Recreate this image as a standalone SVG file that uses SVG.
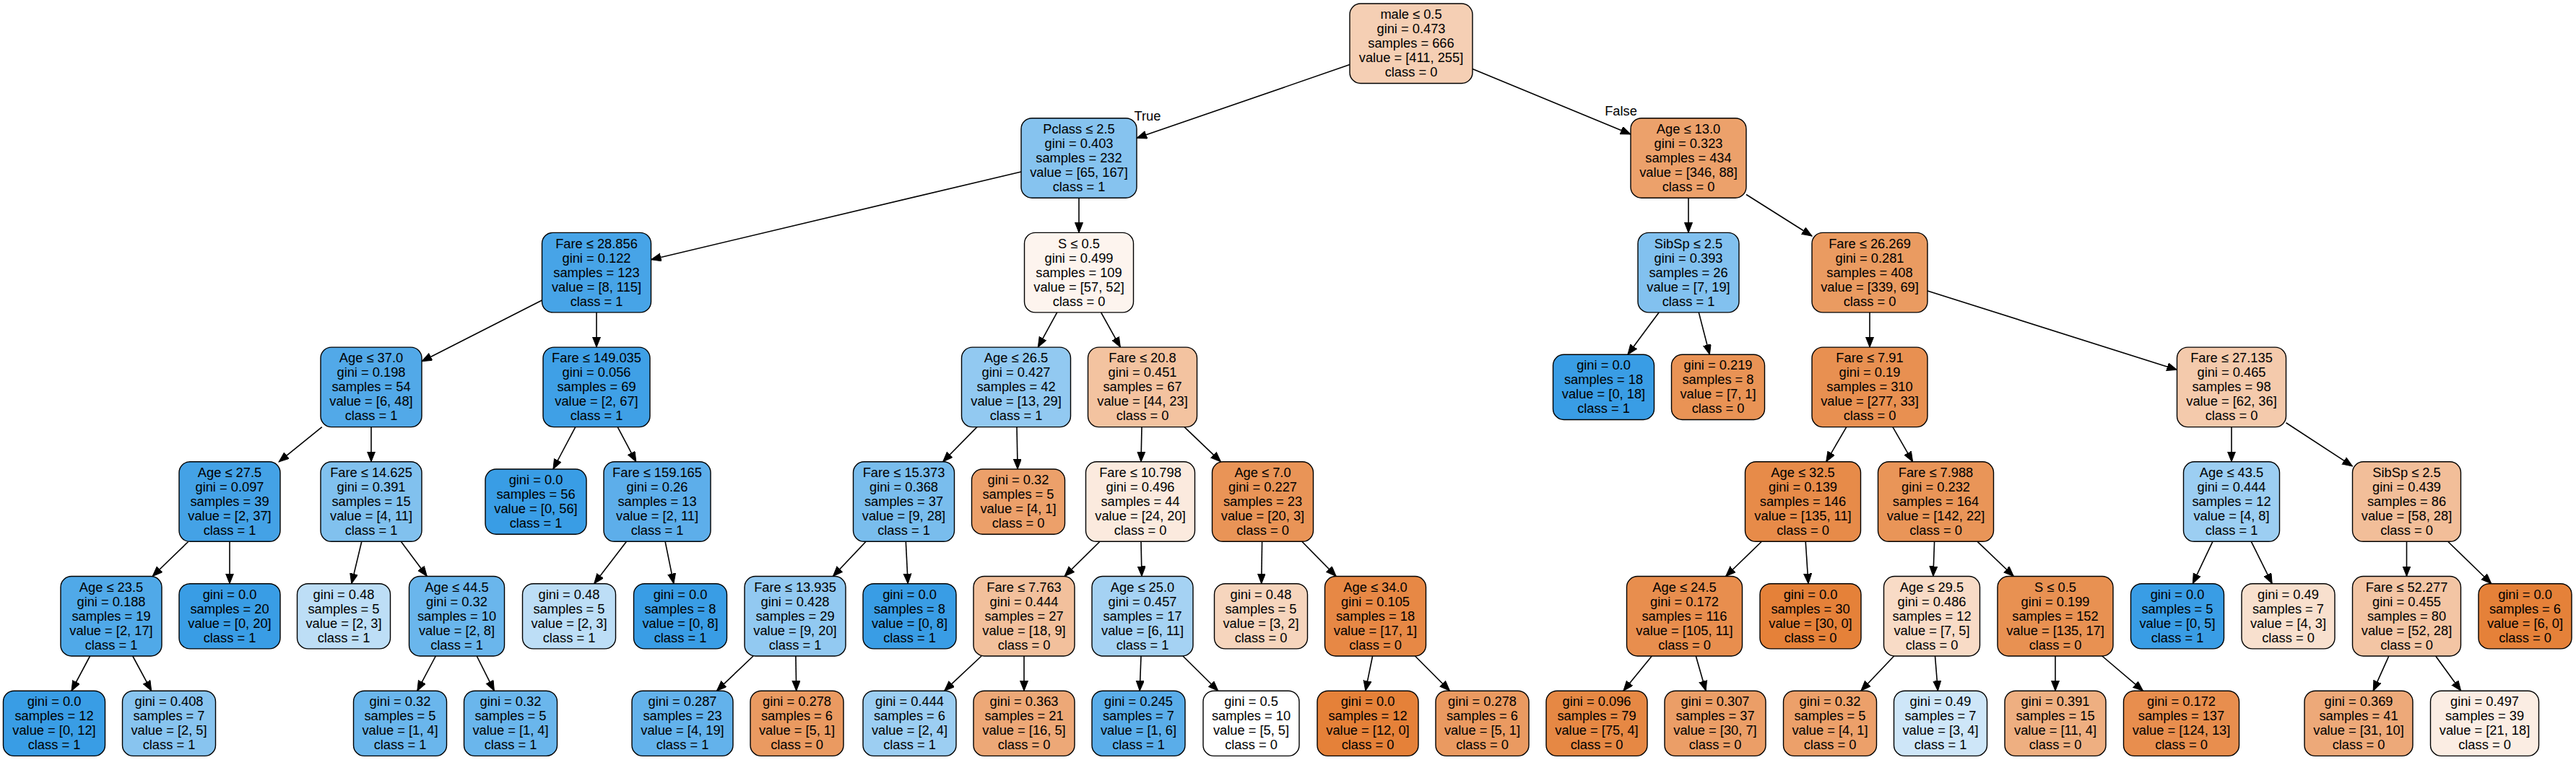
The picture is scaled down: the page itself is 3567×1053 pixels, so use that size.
<svg xmlns="http://www.w3.org/2000/svg" width="3567" height="1053" viewBox="0 0 3567 1053">
<style>
.node rect{stroke:#000;stroke-width:1.4}
text{font-family:"Liberation Sans",Arial,Helvetica,sans-serif;font-size:18.3px;text-anchor:middle;fill:#000}
.edges line{stroke:#000;stroke-width:1.6}
</style>
<defs>
<marker id="arr" markerUnits="userSpaceOnUse" markerWidth="15" markerHeight="12" refX="14" refY="5.5" orient="auto"><path d="M0,0 L14,5.5 L0,11 Z" fill="#000" stroke="#000" stroke-width="1"/></marker>
</defs>
<rect width="3567" height="1053" fill="#fff"/>
<g class="edges">
<line x1="1869" y1="89.6" x2="1574" y2="191.35" marker-end="url(#arr)"/>
<line x1="2039" y1="95.4" x2="2258" y2="185.9" marker-end="url(#arr)"/>
<line x1="1414" y1="237.96" x2="901.5" y2="359.7" marker-end="url(#arr)"/>
<line x1="1494" y1="274.2" x2="1494" y2="322.4" marker-end="url(#arr)"/>
<line x1="750.5" y1="416.05" x2="584" y2="500.7" marker-end="url(#arr)"/>
<line x1="826" y1="432.9" x2="826" y2="481.1" marker-end="url(#arr)"/>
<line x1="445.8" y1="591.6" x2="386.2" y2="639.8" marker-end="url(#arr)"/>
<line x1="514" y1="591.6" x2="514" y2="639.8" marker-end="url(#arr)"/>
<line x1="260.9" y1="750.3" x2="211.1" y2="798.5" marker-end="url(#arr)"/>
<line x1="318" y1="750.3" x2="318" y2="808.7" marker-end="url(#arr)"/>
<line x1="124.6" y1="909" x2="99" y2="957.2" marker-end="url(#arr)"/>
<line x1="183.75" y1="909" x2="209.7" y2="957.2" marker-end="url(#arr)"/>
<line x1="500.8" y1="750.3" x2="486.8" y2="808.7" marker-end="url(#arr)"/>
<line x1="555.25" y1="750.3" x2="591.25" y2="798.5" marker-end="url(#arr)"/>
<line x1="603.3" y1="909" x2="577.8" y2="957.2" marker-end="url(#arr)"/>
<line x1="660.2" y1="909" x2="684.4" y2="957.2" marker-end="url(#arr)"/>
<line x1="796.8" y1="591.6" x2="765.9" y2="650" marker-end="url(#arr)"/>
<line x1="855.2" y1="591.6" x2="880.8" y2="639.8" marker-end="url(#arr)"/>
<line x1="867.5" y1="750.3" x2="822.7" y2="808.7" marker-end="url(#arr)"/>
<line x1="921.1" y1="750.3" x2="932.9" y2="808.7" marker-end="url(#arr)"/>
<line x1="1463.7" y1="432.9" x2="1437.3" y2="481.1" marker-end="url(#arr)"/>
<line x1="1524.6" y1="432.9" x2="1551.4" y2="481.1" marker-end="url(#arr)"/>
<line x1="1352.9" y1="591.6" x2="1305.6" y2="639.8" marker-end="url(#arr)"/>
<line x1="1408" y1="591.6" x2="1409.1" y2="650" marker-end="url(#arr)"/>
<line x1="1199.1" y1="750.3" x2="1153.4" y2="798.5" marker-end="url(#arr)"/>
<line x1="1254.3" y1="750.3" x2="1257.2" y2="808.7" marker-end="url(#arr)"/>
<line x1="1043" y1="909" x2="992.4" y2="957.2" marker-end="url(#arr)"/>
<line x1="1101.9" y1="909" x2="1102.7" y2="957.2" marker-end="url(#arr)"/>
<line x1="1581" y1="591.6" x2="1580" y2="639.8" marker-end="url(#arr)"/>
<line x1="1640" y1="591.6" x2="1690.5" y2="639.8" marker-end="url(#arr)"/>
<line x1="1523" y1="750.3" x2="1474" y2="798.5" marker-end="url(#arr)"/>
<line x1="1580" y1="750.3" x2="1581" y2="798.5" marker-end="url(#arr)"/>
<line x1="1359" y1="909" x2="1307.6" y2="957.2" marker-end="url(#arr)"/>
<line x1="1418" y1="909" x2="1418" y2="957.2" marker-end="url(#arr)"/>
<line x1="1580" y1="909" x2="1578.2" y2="957.2" marker-end="url(#arr)"/>
<line x1="1638" y1="909" x2="1686.8" y2="957.2" marker-end="url(#arr)"/>
<line x1="1747.6" y1="750.3" x2="1746.7" y2="808.7" marker-end="url(#arr)"/>
<line x1="1802.8" y1="750.3" x2="1850.2" y2="798.5" marker-end="url(#arr)"/>
<line x1="1900.6" y1="909" x2="1890.8" y2="957.2" marker-end="url(#arr)"/>
<line x1="1959.5" y1="909" x2="2007.6" y2="957.2" marker-end="url(#arr)"/>
<line x1="2338" y1="274.2" x2="2338" y2="322.4" marker-end="url(#arr)"/>
<line x1="2418" y1="269.5" x2="2509" y2="327.05" marker-end="url(#arr)"/>
<line x1="2297.1" y1="432.9" x2="2253.9" y2="491.3" marker-end="url(#arr)"/>
<line x1="2352.3" y1="432.9" x2="2367.35" y2="491.3" marker-end="url(#arr)"/>
<line x1="2589" y1="432.9" x2="2589" y2="481.1" marker-end="url(#arr)"/>
<line x1="2669" y1="403" x2="3014.5" y2="512.4" marker-end="url(#arr)"/>
<line x1="2556.8" y1="591.6" x2="2528.7" y2="639.8" marker-end="url(#arr)"/>
<line x1="2620.9" y1="591.6" x2="2648.6" y2="639.8" marker-end="url(#arr)"/>
<line x1="2439.4" y1="750.3" x2="2389.6" y2="798.5" marker-end="url(#arr)"/>
<line x1="2500.2" y1="750.3" x2="2504" y2="808.7" marker-end="url(#arr)"/>
<line x1="2287.3" y1="909" x2="2247.9" y2="957.2" marker-end="url(#arr)"/>
<line x1="2348.3" y1="909" x2="2362.1" y2="957.2" marker-end="url(#arr)"/>
<line x1="2678.6" y1="750.3" x2="2676.9" y2="798.5" marker-end="url(#arr)"/>
<line x1="2738.1" y1="750.3" x2="2788.4" y2="798.5" marker-end="url(#arr)"/>
<line x1="2622.6" y1="909" x2="2576.8" y2="957.2" marker-end="url(#arr)"/>
<line x1="2679.5" y1="909" x2="2683.4" y2="957.2" marker-end="url(#arr)"/>
<line x1="2846" y1="909" x2="2846" y2="957.2" marker-end="url(#arr)"/>
<line x1="2910.9" y1="909" x2="2967.5" y2="957.2" marker-end="url(#arr)"/>
<line x1="3090" y1="591.6" x2="3090" y2="639.8" marker-end="url(#arr)"/>
<line x1="3165.5" y1="585.75" x2="3257.5" y2="645.95" marker-end="url(#arr)"/>
<line x1="3063.9" y1="750.3" x2="3036.3" y2="808.7" marker-end="url(#arr)"/>
<line x1="3117.3" y1="750.3" x2="3146.2" y2="808.7" marker-end="url(#arr)"/>
<line x1="3332.5" y1="750.3" x2="3332.5" y2="798.5" marker-end="url(#arr)"/>
<line x1="3389.6" y1="750.3" x2="3449.9" y2="808.7" marker-end="url(#arr)"/>
<line x1="3307.8" y1="909" x2="3286.2" y2="957.2" marker-end="url(#arr)"/>
<line x1="3372.7" y1="909" x2="3407.7" y2="957.2" marker-end="url(#arr)"/>
<text x="1589" y="167">True</text>
<text x="2244.5" y="160">False</text>
</g>
<g id="n0" class="node"><rect x="1869" y="5" width="170" height="110.5" rx="15" fill="#f5cfb4"/><text y="26.25"><tspan x="1954">male ≤ 0.5</tspan><tspan x="1954" dy="20">gini = 0.473</tspan><tspan x="1954" dy="20">samples = 666</tspan><tspan x="1954" dy="20">value = [411, 255]</tspan><tspan x="1954" dy="20">class = 0</tspan></text></g>
<g id="n1" class="node"><rect x="1414" y="163.7" width="160" height="110.5" rx="15" fill="#86c3ef"/><text y="184.95"><tspan x="1494">Pclass ≤ 2.5</tspan><tspan x="1494" dy="20">gini = 0.403</tspan><tspan x="1494" dy="20">samples = 232</tspan><tspan x="1494" dy="20">value = [65, 167]</tspan><tspan x="1494" dy="20">class = 1</tspan></text></g>
<g id="n2" class="node"><rect x="750.5" y="322.4" width="151" height="110.5" rx="15" fill="#47a4e7"/><text y="343.65"><tspan x="826">Fare ≤ 28.856</tspan><tspan x="826" dy="20">gini = 0.122</tspan><tspan x="826" dy="20">samples = 123</tspan><tspan x="826" dy="20">value = [8, 115]</tspan><tspan x="826" dy="20">class = 1</tspan></text></g>
<g id="n3" class="node"><rect x="444" y="481.1" width="140" height="110.5" rx="15" fill="#52a9e8"/><text y="502.35"><tspan x="514">Age ≤ 37.0</tspan><tspan x="514" dy="20">gini = 0.198</tspan><tspan x="514" dy="20">samples = 54</tspan><tspan x="514" dy="20">value = [6, 48]</tspan><tspan x="514" dy="20">class = 1</tspan></text></g>
<g id="n4" class="node"><rect x="248" y="639.8" width="140" height="110.5" rx="15" fill="#44a2e6"/><text y="661.05"><tspan x="318">Age ≤ 27.5</tspan><tspan x="318" dy="20">gini = 0.097</tspan><tspan x="318" dy="20">samples = 39</tspan><tspan x="318" dy="20">value = [2, 37]</tspan><tspan x="318" dy="20">class = 1</tspan></text></g>
<g id="n5" class="node"><rect x="84" y="798.5" width="140" height="110.5" rx="15" fill="#50a9e8"/><text y="819.75"><tspan x="154">Age ≤ 23.5</tspan><tspan x="154" dy="20">gini = 0.188</tspan><tspan x="154" dy="20">samples = 19</tspan><tspan x="154" dy="20">value = [2, 17]</tspan><tspan x="154" dy="20">class = 1</tspan></text></g>
<g id="n6" class="node"><rect x="4.5" y="957.2" width="141" height="90.2" rx="15" fill="#399de5"/><text y="978.3"><tspan x="75">gini = 0.0</tspan><tspan x="75" dy="20">samples = 12</tspan><tspan x="75" dy="20">value = [0, 12]</tspan><tspan x="75" dy="20">class = 1</tspan></text></g>
<g id="n7" class="node"><rect x="169.5" y="957.2" width="129" height="90.2" rx="15" fill="#88c4ef"/><text y="978.3"><tspan x="234">gini = 0.408</tspan><tspan x="234" dy="20">samples = 7</tspan><tspan x="234" dy="20">value = [2, 5]</tspan><tspan x="234" dy="20">class = 1</tspan></text></g>
<g id="n8" class="node"><rect x="248" y="808.7" width="140" height="90.2" rx="15" fill="#399de5"/><text y="829.8"><tspan x="318">gini = 0.0</tspan><tspan x="318" dy="20">samples = 20</tspan><tspan x="318" dy="20">value = [0, 20]</tspan><tspan x="318" dy="20">class = 1</tspan></text></g>
<g id="n9" class="node"><rect x="444" y="639.8" width="140" height="110.5" rx="15" fill="#81c1ee"/><text y="661.05"><tspan x="514">Fare ≤ 14.625</tspan><tspan x="514" dy="20">gini = 0.391</tspan><tspan x="514" dy="20">samples = 15</tspan><tspan x="514" dy="20">value = [4, 11]</tspan><tspan x="514" dy="20">class = 1</tspan></text></g>
<g id="n10" class="node"><rect x="411.5" y="808.7" width="129" height="90.2" rx="15" fill="#bddef6"/><text y="829.8"><tspan x="476">gini = 0.48</tspan><tspan x="476" dy="20">samples = 5</tspan><tspan x="476" dy="20">value = [2, 3]</tspan><tspan x="476" dy="20">class = 1</tspan></text></g>
<g id="n11" class="node"><rect x="566.5" y="798.5" width="132" height="110.5" rx="15" fill="#6ab6ec"/><text y="819.75"><tspan x="632.5">Age ≤ 44.5</tspan><tspan x="632.5" dy="20">gini = 0.32</tspan><tspan x="632.5" dy="20">samples = 10</tspan><tspan x="632.5" dy="20">value = [2, 8]</tspan><tspan x="632.5" dy="20">class = 1</tspan></text></g>
<g id="n12" class="node"><rect x="489.5" y="957.2" width="129" height="90.2" rx="15" fill="#6ab6ec"/><text y="978.3"><tspan x="554">gini = 0.32</tspan><tspan x="554" dy="20">samples = 5</tspan><tspan x="554" dy="20">value = [1, 4]</tspan><tspan x="554" dy="20">class = 1</tspan></text></g>
<g id="n13" class="node"><rect x="642.5" y="957.2" width="129" height="90.2" rx="15" fill="#6ab6ec"/><text y="978.3"><tspan x="707">gini = 0.32</tspan><tspan x="707" dy="20">samples = 5</tspan><tspan x="707" dy="20">value = [1, 4]</tspan><tspan x="707" dy="20">class = 1</tspan></text></g>
<g id="n14" class="node"><rect x="752" y="481.1" width="148" height="110.5" rx="15" fill="#3fa0e6"/><text y="502.35"><tspan x="826">Fare ≤ 149.035</tspan><tspan x="826" dy="20">gini = 0.056</tspan><tspan x="826" dy="20">samples = 69</tspan><tspan x="826" dy="20">value = [2, 67]</tspan><tspan x="826" dy="20">class = 1</tspan></text></g>
<g id="n15" class="node"><rect x="672" y="650" width="140" height="90.2" rx="15" fill="#399de5"/><text y="671.1"><tspan x="742">gini = 0.0</tspan><tspan x="742" dy="20">samples = 56</tspan><tspan x="742" dy="20">value = [0, 56]</tspan><tspan x="742" dy="20">class = 1</tspan></text></g>
<g id="n16" class="node"><rect x="836" y="639.8" width="148" height="110.5" rx="15" fill="#5daeea"/><text y="661.05"><tspan x="910">Fare ≤ 159.165</tspan><tspan x="910" dy="20">gini = 0.26</tspan><tspan x="910" dy="20">samples = 13</tspan><tspan x="910" dy="20">value = [2, 11]</tspan><tspan x="910" dy="20">class = 1</tspan></text></g>
<g id="n17" class="node"><rect x="723.5" y="808.7" width="129" height="90.2" rx="15" fill="#bddef6"/><text y="829.8"><tspan x="788">gini = 0.48</tspan><tspan x="788" dy="20">samples = 5</tspan><tspan x="788" dy="20">value = [2, 3]</tspan><tspan x="788" dy="20">class = 1</tspan></text></g>
<g id="n18" class="node"><rect x="877.5" y="808.7" width="129" height="90.2" rx="15" fill="#399de5"/><text y="829.8"><tspan x="942">gini = 0.0</tspan><tspan x="942" dy="20">samples = 8</tspan><tspan x="942" dy="20">value = [0, 8]</tspan><tspan x="942" dy="20">class = 1</tspan></text></g>
<g id="n19" class="node"><rect x="1418.5" y="322.4" width="151" height="110.5" rx="15" fill="#fdf4ee"/><text y="343.65"><tspan x="1494">S ≤ 0.5</tspan><tspan x="1494" dy="20">gini = 0.499</tspan><tspan x="1494" dy="20">samples = 109</tspan><tspan x="1494" dy="20">value = [57, 52]</tspan><tspan x="1494" dy="20">class = 0</tspan></text></g>
<g id="n20" class="node"><rect x="1331.5" y="481.1" width="151" height="110.5" rx="15" fill="#92c9f1"/><text y="502.35"><tspan x="1407">Age ≤ 26.5</tspan><tspan x="1407" dy="20">gini = 0.427</tspan><tspan x="1407" dy="20">samples = 42</tspan><tspan x="1407" dy="20">value = [13, 29]</tspan><tspan x="1407" dy="20">class = 1</tspan></text></g>
<g id="n21" class="node"><rect x="1181.5" y="639.8" width="140" height="110.5" rx="15" fill="#79bded"/><text y="661.05"><tspan x="1251.5">Fare ≤ 15.373</tspan><tspan x="1251.5" dy="20">gini = 0.368</tspan><tspan x="1251.5" dy="20">samples = 37</tspan><tspan x="1251.5" dy="20">value = [9, 28]</tspan><tspan x="1251.5" dy="20">class = 1</tspan></text></g>
<g id="n22" class="node"><rect x="1031" y="798.5" width="140" height="110.5" rx="15" fill="#92c9f1"/><text y="819.75"><tspan x="1101">Fare ≤ 13.935</tspan><tspan x="1101" dy="20">gini = 0.428</tspan><tspan x="1101" dy="20">samples = 29</tspan><tspan x="1101" dy="20">value = [9, 20]</tspan><tspan x="1101" dy="20">class = 1</tspan></text></g>
<g id="n23" class="node"><rect x="875" y="957.2" width="140" height="90.2" rx="15" fill="#63b2eb"/><text y="978.3"><tspan x="945">gini = 0.287</tspan><tspan x="945" dy="20">samples = 23</tspan><tspan x="945" dy="20">value = [4, 19]</tspan><tspan x="945" dy="20">class = 1</tspan></text></g>
<g id="n24" class="node"><rect x="1039" y="957.2" width="129" height="90.2" rx="15" fill="#ea9a61"/><text y="978.3"><tspan x="1103.5">gini = 0.278</tspan><tspan x="1103.5" dy="20">samples = 6</tspan><tspan x="1103.5" dy="20">value = [5, 1]</tspan><tspan x="1103.5" dy="20">class = 0</tspan></text></g>
<g id="n25" class="node"><rect x="1195" y="808.7" width="129" height="90.2" rx="15" fill="#399de5"/><text y="829.8"><tspan x="1259.5">gini = 0.0</tspan><tspan x="1259.5" dy="20">samples = 8</tspan><tspan x="1259.5" dy="20">value = [0, 8]</tspan><tspan x="1259.5" dy="20">class = 1</tspan></text></g>
<g id="n26" class="node"><rect x="1345.5" y="650" width="129" height="90.2" rx="15" fill="#eca06a"/><text y="671.1"><tspan x="1410">gini = 0.32</tspan><tspan x="1410" dy="20">samples = 5</tspan><tspan x="1410" dy="20">value = [4, 1]</tspan><tspan x="1410" dy="20">class = 0</tspan></text></g>
<g id="n27" class="node"><rect x="1506.5" y="481.1" width="151" height="110.5" rx="15" fill="#f3c3a0"/><text y="502.35"><tspan x="1582">Fare ≤ 20.8</tspan><tspan x="1582" dy="20">gini = 0.451</tspan><tspan x="1582" dy="20">samples = 67</tspan><tspan x="1582" dy="20">value = [44, 23]</tspan><tspan x="1582" dy="20">class = 0</tspan></text></g>
<g id="n28" class="node"><rect x="1503.5" y="639.8" width="151" height="110.5" rx="15" fill="#fbeade"/><text y="661.05"><tspan x="1579">Fare ≤ 10.798</tspan><tspan x="1579" dy="20">gini = 0.496</tspan><tspan x="1579" dy="20">samples = 44</tspan><tspan x="1579" dy="20">value = [24, 20]</tspan><tspan x="1579" dy="20">class = 0</tspan></text></g>
<g id="n29" class="node"><rect x="1348" y="798.5" width="140" height="110.5" rx="15" fill="#f2c09c"/><text y="819.75"><tspan x="1418">Fare ≤ 7.763</tspan><tspan x="1418" dy="20">gini = 0.444</tspan><tspan x="1418" dy="20">samples = 27</tspan><tspan x="1418" dy="20">value = [18, 9]</tspan><tspan x="1418" dy="20">class = 0</tspan></text></g>
<g id="n30" class="node"><rect x="1195" y="957.2" width="129" height="90.2" rx="15" fill="#9ccef2"/><text y="978.3"><tspan x="1259.5">gini = 0.444</tspan><tspan x="1259.5" dy="20">samples = 6</tspan><tspan x="1259.5" dy="20">value = [2, 4]</tspan><tspan x="1259.5" dy="20">class = 1</tspan></text></g>
<g id="n31" class="node"><rect x="1348" y="957.2" width="140" height="90.2" rx="15" fill="#eda877"/><text y="978.3"><tspan x="1418">gini = 0.363</tspan><tspan x="1418" dy="20">samples = 21</tspan><tspan x="1418" dy="20">value = [16, 5]</tspan><tspan x="1418" dy="20">class = 0</tspan></text></g>
<g id="n32" class="node"><rect x="1512" y="798.5" width="140" height="110.5" rx="15" fill="#a5d2f3"/><text y="819.75"><tspan x="1582">Age ≤ 25.0</tspan><tspan x="1582" dy="20">gini = 0.457</tspan><tspan x="1582" dy="20">samples = 17</tspan><tspan x="1582" dy="20">value = [6, 11]</tspan><tspan x="1582" dy="20">class = 1</tspan></text></g>
<g id="n33" class="node"><rect x="1512" y="957.2" width="129" height="90.2" rx="15" fill="#5aade9"/><text y="978.3"><tspan x="1576.5">gini = 0.245</tspan><tspan x="1576.5" dy="20">samples = 7</tspan><tspan x="1576.5" dy="20">value = [1, 6]</tspan><tspan x="1576.5" dy="20">class = 1</tspan></text></g>
<g id="n34" class="node"><rect x="1666" y="957.2" width="133" height="90.2" rx="15" fill="#ffffff"/><text y="978.3"><tspan x="1732.5">gini = 0.5</tspan><tspan x="1732.5" dy="20">samples = 10</tspan><tspan x="1732.5" dy="20">value = [5, 5]</tspan><tspan x="1732.5" dy="20">class = 0</tspan></text></g>
<g id="n35" class="node"><rect x="1678.5" y="639.8" width="140" height="110.5" rx="15" fill="#e99457"/><text y="661.05"><tspan x="1748.5">Age ≤ 7.0</tspan><tspan x="1748.5" dy="20">gini = 0.227</tspan><tspan x="1748.5" dy="20">samples = 23</tspan><tspan x="1748.5" dy="20">value = [20, 3]</tspan><tspan x="1748.5" dy="20">class = 0</tspan></text></g>
<g id="n36" class="node"><rect x="1681.5" y="808.7" width="129" height="90.2" rx="15" fill="#f6d5bd"/><text y="829.8"><tspan x="1746">gini = 0.48</tspan><tspan x="1746" dy="20">samples = 5</tspan><tspan x="1746" dy="20">value = [3, 2]</tspan><tspan x="1746" dy="20">class = 0</tspan></text></g>
<g id="n37" class="node"><rect x="1834.5" y="798.5" width="140" height="110.5" rx="15" fill="#e78845"/><text y="819.75"><tspan x="1904.5">Age ≤ 34.0</tspan><tspan x="1904.5" dy="20">gini = 0.105</tspan><tspan x="1904.5" dy="20">samples = 18</tspan><tspan x="1904.5" dy="20">value = [17, 1]</tspan><tspan x="1904.5" dy="20">class = 0</tspan></text></g>
<g id="n38" class="node"><rect x="1824" y="957.2" width="140" height="90.2" rx="15" fill="#e58139"/><text y="978.3"><tspan x="1894">gini = 0.0</tspan><tspan x="1894" dy="20">samples = 12</tspan><tspan x="1894" dy="20">value = [12, 0]</tspan><tspan x="1894" dy="20">class = 0</tspan></text></g>
<g id="n39" class="node"><rect x="1988" y="957.2" width="129" height="90.2" rx="15" fill="#ea9a61"/><text y="978.3"><tspan x="2052.5">gini = 0.278</tspan><tspan x="2052.5" dy="20">samples = 6</tspan><tspan x="2052.5" dy="20">value = [5, 1]</tspan><tspan x="2052.5" dy="20">class = 0</tspan></text></g>
<g id="n40" class="node"><rect x="2258" y="163.7" width="160" height="110.5" rx="15" fill="#eca16b"/><text y="184.95"><tspan x="2338">Age ≤ 13.0</tspan><tspan x="2338" dy="20">gini = 0.323</tspan><tspan x="2338" dy="20">samples = 434</tspan><tspan x="2338" dy="20">value = [346, 88]</tspan><tspan x="2338" dy="20">class = 0</tspan></text></g>
<g id="n41" class="node"><rect x="2268" y="322.4" width="140" height="110.5" rx="15" fill="#82c1ef"/><text y="343.65"><tspan x="2338">SibSp ≤ 2.5</tspan><tspan x="2338" dy="20">gini = 0.393</tspan><tspan x="2338" dy="20">samples = 26</tspan><tspan x="2338" dy="20">value = [7, 19]</tspan><tspan x="2338" dy="20">class = 1</tspan></text></g>
<g id="n42" class="node"><rect x="2150.5" y="491.3" width="140" height="90.2" rx="15" fill="#399de5"/><text y="512.4"><tspan x="2220.5">gini = 0.0</tspan><tspan x="2220.5" dy="20">samples = 18</tspan><tspan x="2220.5" dy="20">value = [0, 18]</tspan><tspan x="2220.5" dy="20">class = 1</tspan></text></g>
<g id="n43" class="node"><rect x="2314.5" y="491.3" width="129" height="90.2" rx="15" fill="#e99355"/><text y="512.4"><tspan x="2379">gini = 0.219</tspan><tspan x="2379" dy="20">samples = 8</tspan><tspan x="2379" dy="20">value = [7, 1]</tspan><tspan x="2379" dy="20">class = 0</tspan></text></g>
<g id="n44" class="node"><rect x="2509" y="322.4" width="160" height="110.5" rx="15" fill="#ea9b61"/><text y="343.65"><tspan x="2589">Fare ≤ 26.269</tspan><tspan x="2589" dy="20">gini = 0.281</tspan><tspan x="2589" dy="20">samples = 408</tspan><tspan x="2589" dy="20">value = [339, 69]</tspan><tspan x="2589" dy="20">class = 0</tspan></text></g>
<g id="n45" class="node"><rect x="2509" y="481.1" width="160" height="110.5" rx="15" fill="#e89051"/><text y="502.35"><tspan x="2589">Fare ≤ 7.91</tspan><tspan x="2589" dy="20">gini = 0.19</tspan><tspan x="2589" dy="20">samples = 310</tspan><tspan x="2589" dy="20">value = [277, 33]</tspan><tspan x="2589" dy="20">class = 0</tspan></text></g>
<g id="n46" class="node"><rect x="2416.5" y="639.8" width="160" height="110.5" rx="15" fill="#e78b49"/><text y="661.05"><tspan x="2496.5">Age ≤ 32.5</tspan><tspan x="2496.5" dy="20">gini = 0.139</tspan><tspan x="2496.5" dy="20">samples = 146</tspan><tspan x="2496.5" dy="20">value = [135, 11]</tspan><tspan x="2496.5" dy="20">class = 0</tspan></text></g>
<g id="n47" class="node"><rect x="2252.5" y="798.5" width="160" height="110.5" rx="15" fill="#e88e4e"/><text y="819.75"><tspan x="2332.5">Age ≤ 24.5</tspan><tspan x="2332.5" dy="20">gini = 0.172</tspan><tspan x="2332.5" dy="20">samples = 116</tspan><tspan x="2332.5" dy="20">value = [105, 11]</tspan><tspan x="2332.5" dy="20">class = 0</tspan></text></g>
<g id="n48" class="node"><rect x="2141" y="957.2" width="140" height="90.2" rx="15" fill="#e68844"/><text y="978.3"><tspan x="2211">gini = 0.096</tspan><tspan x="2211" dy="20">samples = 79</tspan><tspan x="2211" dy="20">value = [75, 4]</tspan><tspan x="2211" dy="20">class = 0</tspan></text></g>
<g id="n49" class="node"><rect x="2305" y="957.2" width="140" height="90.2" rx="15" fill="#eb9e67"/><text y="978.3"><tspan x="2375">gini = 0.307</tspan><tspan x="2375" dy="20">samples = 37</tspan><tspan x="2375" dy="20">value = [30, 7]</tspan><tspan x="2375" dy="20">class = 0</tspan></text></g>
<g id="n50" class="node"><rect x="2437" y="808.7" width="140" height="90.2" rx="15" fill="#e58139"/><text y="829.8"><tspan x="2507">gini = 0.0</tspan><tspan x="2507" dy="20">samples = 30</tspan><tspan x="2507" dy="20">value = [30, 0]</tspan><tspan x="2507" dy="20">class = 0</tspan></text></g>
<g id="n51" class="node"><rect x="2600.5" y="639.8" width="160" height="110.5" rx="15" fill="#e99558"/><text y="661.05"><tspan x="2680.5">Fare ≤ 7.988</tspan><tspan x="2680.5" dy="20">gini = 0.232</tspan><tspan x="2680.5" dy="20">samples = 164</tspan><tspan x="2680.5" dy="20">value = [142, 22]</tspan><tspan x="2680.5" dy="20">class = 0</tspan></text></g>
<g id="n52" class="node"><rect x="2608.5" y="798.5" width="133" height="110.5" rx="15" fill="#f8dbc6"/><text y="819.75"><tspan x="2675">Age ≤ 29.5</tspan><tspan x="2675" dy="20">gini = 0.486</tspan><tspan x="2675" dy="20">samples = 12</tspan><tspan x="2675" dy="20">value = [7, 5]</tspan><tspan x="2675" dy="20">class = 0</tspan></text></g>
<g id="n53" class="node"><rect x="2469.5" y="957.2" width="129" height="90.2" rx="15" fill="#eca06a"/><text y="978.3"><tspan x="2534">gini = 0.32</tspan><tspan x="2534" dy="20">samples = 5</tspan><tspan x="2534" dy="20">value = [4, 1]</tspan><tspan x="2534" dy="20">class = 0</tspan></text></g>
<g id="n54" class="node"><rect x="2622.5" y="957.2" width="129" height="90.2" rx="15" fill="#cee6f8"/><text y="978.3"><tspan x="2687">gini = 0.49</tspan><tspan x="2687" dy="20">samples = 7</tspan><tspan x="2687" dy="20">value = [3, 4]</tspan><tspan x="2687" dy="20">class = 1</tspan></text></g>
<g id="n55" class="node"><rect x="2766" y="798.5" width="160" height="110.5" rx="15" fill="#e89152"/><text y="819.75"><tspan x="2846">S ≤ 0.5</tspan><tspan x="2846" dy="20">gini = 0.199</tspan><tspan x="2846" dy="20">samples = 152</tspan><tspan x="2846" dy="20">value = [135, 17]</tspan><tspan x="2846" dy="20">class = 0</tspan></text></g>
<g id="n56" class="node"><rect x="2776" y="957.2" width="140" height="90.2" rx="15" fill="#eeaf81"/><text y="978.3"><tspan x="2846">gini = 0.391</tspan><tspan x="2846" dy="20">samples = 15</tspan><tspan x="2846" dy="20">value = [11, 4]</tspan><tspan x="2846" dy="20">class = 0</tspan></text></g>
<g id="n57" class="node"><rect x="2940.5" y="957.2" width="160" height="90.2" rx="15" fill="#e88e4e"/><text y="978.3"><tspan x="3020.5">gini = 0.172</tspan><tspan x="3020.5" dy="20">samples = 137</tspan><tspan x="3020.5" dy="20">value = [124, 13]</tspan><tspan x="3020.5" dy="20">class = 0</tspan></text></g>
<g id="n58" class="node"><rect x="3014.5" y="481.1" width="151" height="110.5" rx="15" fill="#f4caac"/><text y="502.35"><tspan x="3090">Fare ≤ 27.135</tspan><tspan x="3090" dy="20">gini = 0.465</tspan><tspan x="3090" dy="20">samples = 98</tspan><tspan x="3090" dy="20">value = [62, 36]</tspan><tspan x="3090" dy="20">class = 0</tspan></text></g>
<g id="n59" class="node"><rect x="3023.5" y="639.8" width="133" height="110.5" rx="15" fill="#9ccef2"/><text y="661.05"><tspan x="3090">Age ≤ 43.5</tspan><tspan x="3090" dy="20">gini = 0.444</tspan><tspan x="3090" dy="20">samples = 12</tspan><tspan x="3090" dy="20">value = [4, 8]</tspan><tspan x="3090" dy="20">class = 1</tspan></text></g>
<g id="n60" class="node"><rect x="2950.5" y="808.7" width="129" height="90.2" rx="15" fill="#399de5"/><text y="829.8"><tspan x="3015">gini = 0.0</tspan><tspan x="3015" dy="20">samples = 5</tspan><tspan x="3015" dy="20">value = [0, 5]</tspan><tspan x="3015" dy="20">class = 1</tspan></text></g>
<g id="n61" class="node"><rect x="3104" y="808.7" width="129" height="90.2" rx="15" fill="#f8e0ce"/><text y="829.8"><tspan x="3168.5">gini = 0.49</tspan><tspan x="3168.5" dy="20">samples = 7</tspan><tspan x="3168.5" dy="20">value = [4, 3]</tspan><tspan x="3168.5" dy="20">class = 0</tspan></text></g>
<g id="n62" class="node"><rect x="3257.5" y="639.8" width="150" height="110.5" rx="15" fill="#f2be99"/><text y="661.05"><tspan x="3332.5">SibSp ≤ 2.5</tspan><tspan x="3332.5" dy="20">gini = 0.439</tspan><tspan x="3332.5" dy="20">samples = 86</tspan><tspan x="3332.5" dy="20">value = [58, 28]</tspan><tspan x="3332.5" dy="20">class = 0</tspan></text></g>
<g id="n63" class="node"><rect x="3257.5" y="798.5" width="150" height="110.5" rx="15" fill="#f3c5a4"/><text y="819.75"><tspan x="3332.5">Fare ≤ 52.277</tspan><tspan x="3332.5" dy="20">gini = 0.455</tspan><tspan x="3332.5" dy="20">samples = 80</tspan><tspan x="3332.5" dy="20">value = [52, 28]</tspan><tspan x="3332.5" dy="20">class = 0</tspan></text></g>
<g id="n64" class="node"><rect x="3191" y="957.2" width="150" height="90.2" rx="15" fill="#eda979"/><text y="978.3"><tspan x="3266">gini = 0.369</tspan><tspan x="3266" dy="20">samples = 41</tspan><tspan x="3266" dy="20">value = [31, 10]</tspan><tspan x="3266" dy="20">class = 0</tspan></text></g>
<g id="n65" class="node"><rect x="3365.5" y="957.2" width="150" height="90.2" rx="15" fill="#fbede3"/><text y="978.3"><tspan x="3440.5">gini = 0.497</tspan><tspan x="3440.5" dy="20">samples = 39</tspan><tspan x="3440.5" dy="20">value = [21, 18]</tspan><tspan x="3440.5" dy="20">class = 0</tspan></text></g>
<g id="n66" class="node"><rect x="3432" y="808.7" width="129" height="90.2" rx="15" fill="#e58139"/><text y="829.8"><tspan x="3496.5">gini = 0.0</tspan><tspan x="3496.5" dy="20">samples = 6</tspan><tspan x="3496.5" dy="20">value = [6, 0]</tspan><tspan x="3496.5" dy="20">class = 0</tspan></text></g>
</svg>
